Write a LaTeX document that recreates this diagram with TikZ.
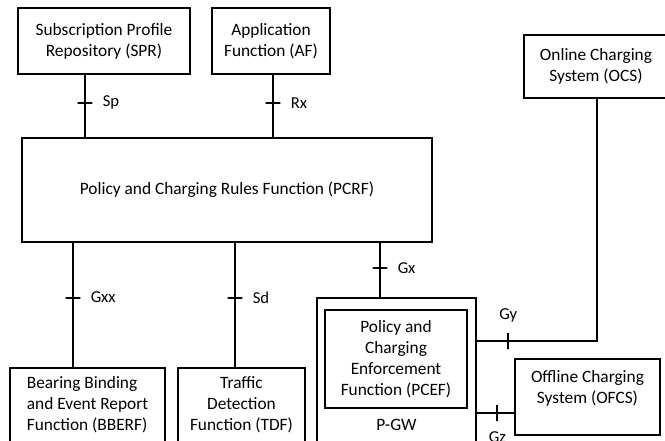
\documentclass[tikz,border=0pt]{standalone}
\usepackage{fontspec}
\setmainfont{Carlito}

\begin{document}
\begin{tikzpicture}[
       x=0.75pt, y=-0.75pt,
       line width=1.5pt,
       font=\fontsize{13}{15.75}\selectfont,
       func/.style={
         draw,
         rectangle,
         align=center,
         inner sep=0pt
       },
       htick/.style={
         draw,
         inner sep=0pt,
         minimum width=11pt,
         minimum height=0pt
       },
       vtick/.style={
         draw,
         inner sep=0pt,
         minimum width=0pt,
         minimum height=12pt
       },
       every label/.style={
         font=\fontsize{12.5}{14}\selectfont,
         label distance=3pt
       }
     ]
\useasboundingbox (0,0) rectangle (665,440);
\clip (0,0) rectangle (665,440);

\node[func,minimum width=129pt,minimum height=49.5pt] (spr) at (104,41) {Subscription Profile\\Repository (SPR)};
\node[func,minimum width=88.5pt,minimum height=49.5pt] (af) at (271,41) {Application\\Function (AF)};
\node[func,minimum width=108pt,minimum height=47.25pt] (ocs) at (596,66.5) {Online Charging\\System (OCS)};
\node[func,minimum width=307.5pt,minimum height=78pt] (pcrf) at (227,190) {Policy and Charging Rules Function (PCRF)};
\node[func,align=left,minimum width=116.25pt,minimum height=55.5pt] (bberf) at (87.5,405) {Bearing Binding\\and Event Report\\Function (BBERF)};
\node[func,minimum width=95.25pt,minimum height=55.5pt] (tdf) at (241.5,405) {Traffic\\Detection\\Function (TDF)};
\node[func,minimum width=119.25pt,minimum height=114pt] (pgw) at (396.5,374) {};
\node[func,minimum width=106.5pt,minimum height=73.5pt] (pcef) at (396,359) {Policy and\\Charging\\Enforcement\\Function (PCEF)};
\node (pgwname) at (396.5,425) {P-GW};
\node[func,minimum width=108.75pt,minimum height=57pt] (ofcs) at (587.5,397) {Offline Charging\\System (OFCS)\\~};

\draw (spr.south -| 85,0) -- node[pos=0.45,htick,label=right:Sp] {} (pcrf.north -| 85,0);
\draw (af.south -| 273,0) -- node[pos=0.45,htick,label=right:Rx] {} (pcrf.north -| 273,0);
\draw (pcrf.south -| 73,0) -- node[pos=0.44,htick,label=right:Gxx] {} (bberf.north -| 73,0);
\draw (pcrf.south -| 235,0) -- node[pos=0.44,htick,label=right:Sd] {} (tdf.north -| 235,0);
\draw (pcrf.south -| 380,0) -- node[pos=0.46,htick,label=right:Gx] {} (pgw.north -| 380,0);
\draw (pgw.east |- 0,341) -| node[pos=0.13,vtick,label=above:Gy] {} (ocs.south -| 597,0);
\draw (pgw.east |- 0,413) -- node[pos=0.55,vtick,label=below:Gz] {} (ofcs.west |- 0,413);

\end{tikzpicture}
\end{document}
